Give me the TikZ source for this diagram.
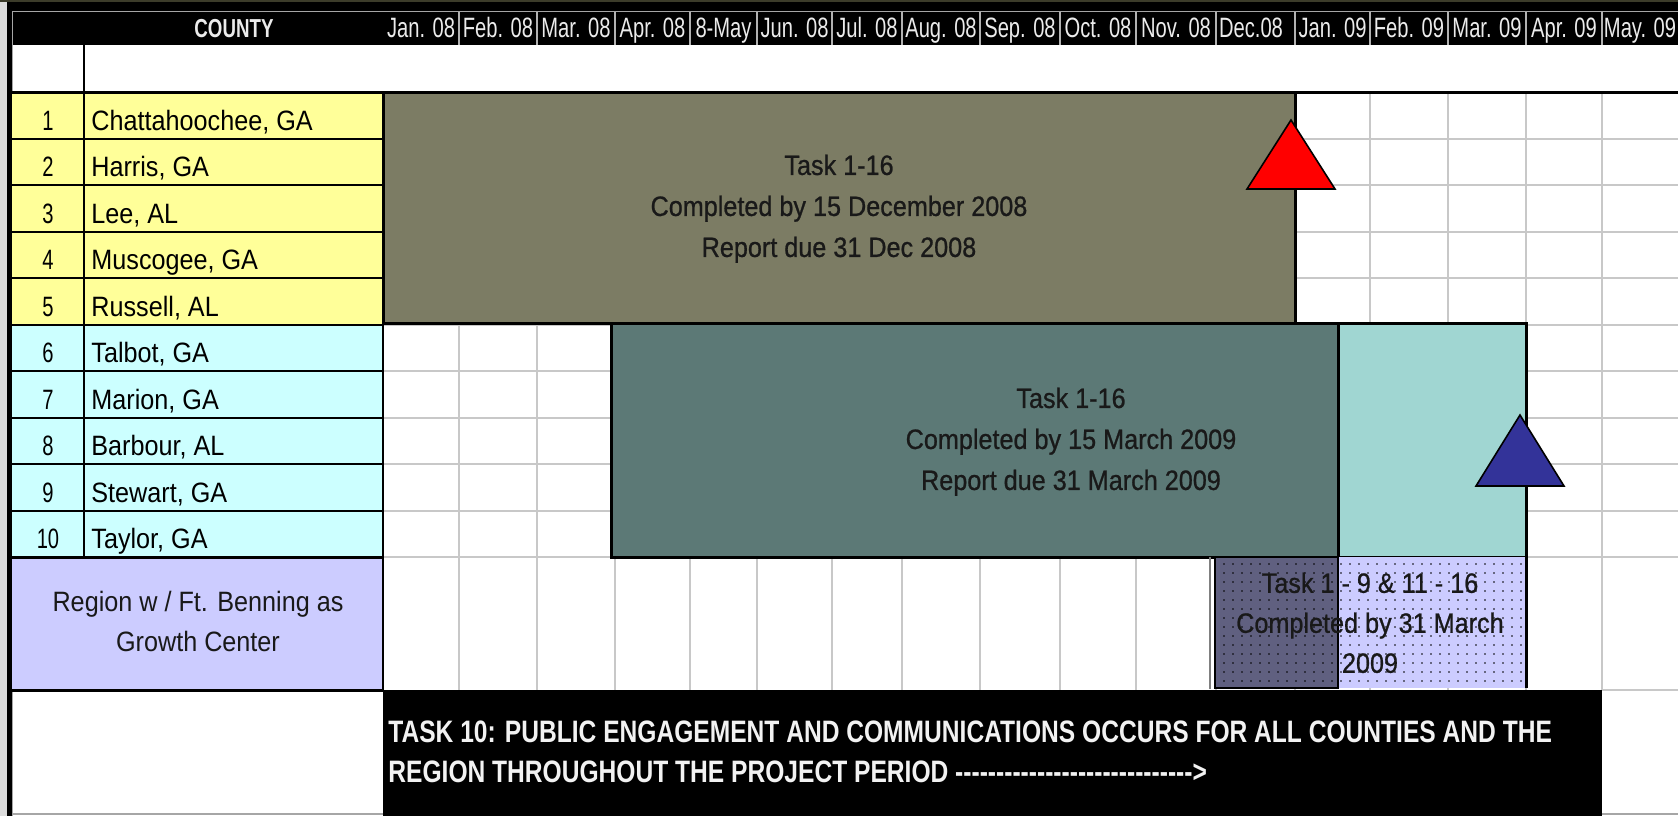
\documentclass[tikz,border=0pt]{standalone}
\usepackage{fontspec}
\setmainfont{Liberation Sans}[FakeStretch=0.9]
\newfontfamily\narrowfont{Liberation Sans}[FakeStretch=0.72]
\newfontfamily\barfont{Liberation Sans}[FakeStretch=0.9,FakeBold=0.8]
\newfontfamily\bannerfont{Liberation Sans}[FakeStretch=0.793,Ligatures=TeXOff]
\usetikzlibrary{patterns.meta}

\definecolor{countyyellow}{HTML}{FFFF99}
\definecolor{countycyan}{HTML}{CCFFFF}
\definecolor{regionblue}{HTML}{CCCCFF}
\definecolor{olivebar}{RGB}{124,124,100}
\definecolor{tealbar}{RGB}{92,121,118}
\definecolor{lighttealbar}{RGB}{160,214,210}
\definecolor{duskbar}{RGB}{96,96,128}
\definecolor{marker}{HTML}{333399}
\definecolor{gridgray}{HTML}{C8C8C8}
\definecolor{framegray}{HTML}{DCDCDC}
\definecolor{frameolive}{HTML}{3C3C2A}

\begin{document}
\begin{tikzpicture}[x=0.5pt, y=-0.5pt,
    gridline/.style={draw=gridgray, line width=1pt},
    cellline/.style={draw=black, line width=1pt},
    heavyline/.style={draw=black, line width=1.5pt},
    monthlabel/.style={text=white!92!black, font=\narrowfont\fontsize{14}{16}\selectfont, anchor=base, inner sep=0pt},
    rownum/.style={font=\narrowfont\fontsize{14}{16}\selectfont, anchor=base, inner sep=0pt},
    county/.style={font=\fontsize{14}{16}\selectfont, anchor=base west, inner sep=0pt},
    bartext/.style={font=\barfont\fontsize{14}{20.5}\selectfont, align=center, inner sep=0pt, text=black!90},
    bar/.style={draw=black, line width=1.5pt},
    milestone/.style={draw=black, line width=0.8pt}]
    \useasboundingbox (0,0) rectangle (1678,816);
    \fill[white] (0,0) rectangle (1678,816);

    % outer frame and header band
    \fill[framegray] (0,0) rectangle (7,816);
    \fill[black] (7,0) rectangle (12,816);
    \fill[black] (7,0) rectangle (1678,45);
    \fill[frameolive] (0,0) rectangle (1678,2);
    \draw[gray!70, line width=0.6pt] (12.5,816) -- (12.5,11.5) -- (1678,11.5);
    \foreach \x in {459,537,615,690,757,832,902,980,1060,1136,1216,1295,1370,1448,1526,1602}
        \draw[gray!60, line width=0.6pt] (\x,12) -- (\x,45);

    \node[monthlabel, font=\narrowfont\bfseries\fontsize{13}{15}\selectfont] (county) at (234,37) {COUNTY};
    \node[monthlabel] (jan08) at (421,37) {Jan. 08};
    \node[monthlabel] (feb08) at (498,37) {Feb. 08};
    \node[monthlabel] (mar08) at (576,37) {Mar. 08};
    \node[monthlabel] (apr08) at (652.5,37) {Apr. 08};
    \node[monthlabel] (may08) at (723.5,37) {8-May};
    \node[monthlabel] (jun08) at (794.5,37) {Jun. 08};
    \node[monthlabel] (jul08) at (867,37) {Jul. 08};
    \node[monthlabel] (aug08) at (941,37) {Aug. 08};
    \node[monthlabel] (sep08) at (1020,37) {Sep. 08};
    \node[monthlabel] (oct08) at (1098,37) {Oct. 08};
    \node[monthlabel] (nov08) at (1176,37) {Nov. 08};
    \node[monthlabel] (dec08) at (1251,37) {Dec.08};
    \node[monthlabel] (jan09) at (1332.5,37) {Jan. 09};
    \node[monthlabel] (feb09) at (1409,37) {Feb. 09};
    \node[monthlabel] (mar09) at (1487,37) {Mar. 09};
    \node[monthlabel] (apr09) at (1564,37) {Apr. 09};
    \node[monthlabel] (may09) at (1640,37) {May. 09};

    % county cells
    \fill[countyyellow] (12,92) rectangle (383,324.5);
    \fill[countycyan] (12,324.5) rectangle (383,557);
    \fill[regionblue] (12,557) rectangle (383,690);

    % month grid
    \foreach \y in {138.5,185,231.5,278,324.5,371,417.5,464,510.5,557}
        \draw[gridline] (383,\y) -- (1678,\y);
    \foreach \x in {459,537,615,690,757,832,902,980,1060,1136,1216,1295,1370,1448,1526,1602}
        \draw[gridline] (\x,92) -- (\x,690);
    \draw[gridline] (1602,690) -- (1678,690);

    \draw[cellline] (84,45) -- (84,557);
    \draw[cellline] (383,92) -- (383,690);
    \foreach \y in {138.5,185,231.5,278,324.5,371,417.5,464,510.5}
        \draw[cellline] (12,\y) -- (383,\y);
    \draw[heavyline] (12,92) -- (1678,92);
    \draw[heavyline] (12,557) -- (383,557);
    \draw[heavyline] (12,690) -- (383,690);
    \draw[gray!70, line width=0.8pt] (12,814) -- (1678,814);

    \node[rownum] (n1) at (48,130) {1};
    \node[rownum] (n2) at (48,176.5) {2};
    \node[rownum] (n3) at (48,223) {3};
    \node[rownum] (n4) at (48,269.5) {4};
    \node[rownum] (n5) at (48,316) {5};
    \node[rownum] (n6) at (48,362.5) {6};
    \node[rownum] (n7) at (48,409) {7};
    \node[rownum] (n8) at (48,455.5) {8};
    \node[rownum] (n9) at (48,502) {9};
    \node[rownum] (n10) at (48,548.5) {10};

    \node[county] (chattahoochee) at (91,130) {Chattahoochee, GA};
    \node[county] (harris) at (91,176.5) {Harris, GA};
    \node[county] (lee) at (91,223) {Lee, AL};
    \node[county] (muscogee) at (91,269.5) {Muscogee, GA};
    \node[county] (russell) at (91,316) {Russell, AL};
    \node[county] (talbot) at (91,362.5) {Talbot, GA};
    \node[county] (marion) at (91,409) {Marion, GA};
    \node[county] (barbour) at (91,455.5) {Barbour, AL};
    \node[county] (stewart) at (91,502) {Stewart, GA};
    \node[county] (taylor) at (91,548.5) {Taylor, GA};
    \node[bartext, font=\fontsize{14}{20}\selectfont] (region) at (198,621.8) {Region w / Ft. Benning as\\Growth Center};

    % task bars
    \filldraw[bar, fill=olivebar] (383,92) rectangle (1295,323.5);
    \node[bartext] (phaseone) at (839,208.7) {Task 1-16\\Completed by 15 December 2008\\Report due 31 Dec 2008};

    \filldraw[bar, fill=tealbar] (611,323.5) rectangle (1338,557);
    \filldraw[bar, fill=lighttealbar] (1338,323.5) rectangle (1526,557);
    \node[bartext] (phasetwo) at (1071,441.7) {Task 1-16\\Completed by 15 March 2009\\Report due 31 March 2009};

    \fill[regionblue] (1215,557) rectangle (1526,688);
    \fill[duskbar] (1215,557) rectangle (1338,688);
    \fill[pattern={Dots[distance=4.5pt, radius=0.45pt]}, pattern color=black] (1215,557) rectangle (1526,688);
    \draw[cellline] (1215,557) rectangle (1338,688);
    \draw[heavyline] (1526,557) -- (1526,688);
    \draw[gray, line width=1pt] (1210,557) -- (1210,689);
    \node[bartext, font=\barfont\fontsize{14}{20}\selectfont] (regiontask) at (1370,622.8) {Task 1 - 9 \& 11 - 16\\Completed by 31 March\\2009};

    % milestones
    \filldraw[milestone, fill=red] (1291,120) -- (1335,189) -- (1247,189) -- cycle;
    \filldraw[milestone, fill=marker] (1520,415) -- (1564,486) -- (1476,486) -- cycle;

    % task 10 banner
    \fill[black] (383,690) rectangle (1602,816);
    \node[anchor=north west, align=left, inner sep=0pt, text=white!95!black,
          font=\bannerfont\bfseries\fontsize{15.5}{20}\selectfont] (task10) at (388,720.8)
        {TASK 10: PUBLIC ENGAGEMENT AND COMMUNICATIONS OCCURS FOR ALL COUNTIES AND THE\\REGION THROUGHOUT THE PROJECT PERIOD ----------------------------->};
\end{tikzpicture}
\end{document}
